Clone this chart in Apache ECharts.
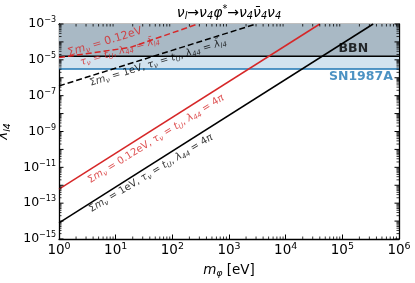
<!DOCTYPE html>
<html><head><meta charset="utf-8">
<script src="https://cdn.jsdelivr.net/npm/echarts@6/dist/echarts.min.js"></script>
<style>html,body{margin:0;padding:0;background:#fff}#c{width:415px;height:283px}</style>
</head><body><div id="c"></div>
<script>
// ---- data ----
const xTickExps = [0, 1, 2, 3, 4, 5, 6];
const yTickExps = [-15, -13, -11, -9, -7, -5, -3];
const xRange = [1, 1e6];
const yRange = [1e-15, 1e-3];
const bbnLimit = 1.6e-5;
const snLimit = 3.1e-6;
const blackSolid = [[1, 8e-15], [3.5e5, 1e-3]];
const redSolid = [[1, 6e-13], [4e4, 1e-3]];
const blackDashed = [[1, 3.5e-7], [3e3, 1e-3]];
const redDashed = [[1, 1.35e-5], [18, 4.9e-5], [280, 1e-3]];
const annoRedDash1 = {at: [6.5, 1e-4], rot: 17, color: '#d62728', size: 11,
  text: '{n|Σ}{i|m}{sub|ν}{n| = 0.12eV}'};
const annoRedDash2 = {at: [11.9, 2.9e-5], rot: 16, color: '#d62728', size: 10,
  text: '{i|τ}{sub|ν}{n| = }{i|t}{sub|U}{n|, }{i|λ}{sub|44}{n| = }{i|λ\u0304}{sub|l4}'};
const annoBlackDash = {at: [56, 7.1e-6], rot: 17, color: '#000', size: 10,
  text: '{n|Σ}{i|m}{sub|ν}{n| = 1eV, }{i|τ}{sub|ν}{n| = }{i|t}{sub|U}{n|, }{i|λ}{sub|44}{n| = }{i|λ\u0304}{sub|l4}'};
const annoRedSolid = {at: [51.5, 3.8e-10], rot: 32, color: '#d62728', size: 10,
  text: '{n|Σ}{i|m}{sub|ν}{n| = 0.12eV, }{i|τ}{sub|ν}{n| = }{i|t}{sub|U}{n|, }{i|λ}{sub|44}{n| = 4}{i|π}'};
const annoBlackSolid = {at: [42, 4.6e-12], rot: 31, color: '#000', size: 10,
  text: '{n|Σ}{i|m}{sub|ν}{n| = 1eV, }{i|τ}{sub|ν}{n| = }{i|t}{sub|U}{n|, }{i|λ}{sub|44}{n| = 4}{i|π}'};
const titleText = '{i|ν}{sub|l}{n|→}{i|ν}{sub|4}{i|φ}{sup|*}{n|→}{i|ν}{sub|4}{i|ν\u0304}{sub|4}{i|ν}{sub|4}';
const xNameText = '{i|m}{sub|φ}{n| [eV]}';
const yNameText = '{i|λ}{sub|l4}';
const bbnLabel = {at: [2.85e5, bbnLimit], text: 'BBN', color: '#000'};
const snLabel = {at: [7.8e5, snLimit], text: 'SN1987A', color: '#1f77b4'};

// ---- helpers ----
const FF = 'DejaVu Sans';
function rich(F, color, supRatio) {
  const sr = supRatio || 0.7;
  return {
    n: {fontSize: F, fontFamily: FF, color: color},
    i: {fontSize: F, fontFamily: FF, fontStyle: 'italic', color: color},
    sub: {fontSize: F * 0.7, fontFamily: FF, fontStyle: 'italic', color: color, padding: [F * 0.55, 0, 0, 0]},
    sup: {fontSize: F * 0.7, fontFamily: FF, color: color, padding: [0, 0, F * 0.55, 0]},
    b: {fontSize: F, fontFamily: FF, color: color},
    s: {fontSize: F * sr, fontFamily: FF, color: color, padding: [0, 0, F * 0.6, 0]}
  };
}
function powLabel(v, list) {
  const e = Math.round(Math.log10(v));
  if (list.indexOf(e) < 0) return '';
  return '{b|10}{s|' + String(e).replace('-', '\u2212') + '}';
}
const xMinor = [], yMinor = [];
for (let e = 0; e < 6; e++) for (let k = 2; k <= 9; k++) xMinor.push([k * Math.pow(10, e), 1e-9]);
for (let e = -15; e < -3; e++) for (let k = 2; k <= 9; k++) yMinor.push([10, k * Math.pow(10, e)]);
const yMajorAll = [];
for (let e = -15; e <= -3; e++) yMajorAll.push([10, Math.pow(10, e)]);

function annoSeries(a) {
  return {
    type: 'scatter', symbolSize: 0, silent: true, z: 5,
    data: [{value: a.at}],
    label: {show: true, position: [0, 0], align: 'center', verticalAlign: 'middle',
      rotate: a.rot, formatter: a.text, rich: rich(a.size, a.color)}
  };
}
function lineSeries(data, color, type) {
  return {type: 'line', data: data, showSymbol: false, symbol: 'none', z: 3, silent: true,
    lineStyle: {color: color, width: 1.5, type: type}};
}

const chart = echarts.init(document.getElementById('c'), null, {renderer: 'canvas'});
const axisLine = {show: true, lineStyle: {color: '#000', width: 1.3}};
chart.setOption({
  animation: false,
  grid: {left: 59, top: 24, right: 16, bottom: 44, containLabel: false, outerBoundsMode: 'none'},
  xAxis: [
    {type: 'log', logBase: 10, min: xRange[0], max: xRange[1], interval: 1,
     axisLine: axisLine, splitLine: {show: false},
     axisTick: {inside: true, length: 4.5, lineStyle: {color: '#000', width: 1}},
     axisLabel: {margin: 3, formatter: v => powLabel(v, xTickExps), rich: rich(13.5, '#000', 0.7)},
     name: xNameText, nameLocation: 'middle', nameGap: 23,
     nameTextStyle: {rich: rich(13.5, '#000')}},
    {type: 'log', logBase: 10, min: xRange[0], max: xRange[1], interval: 1, position: 'top',
     axisLine: axisLine, splitLine: {show: false},
     axisTick: {inside: true, length: 4.5, lineStyle: {color: '#000', width: 1}},
     axisLabel: {show: false}}
  ],
  yAxis: [
    {type: 'log', logBase: 10, min: yRange[0], max: yRange[1], interval: 1,
     axisLine: axisLine, splitLine: {show: false},
     axisTick: {show: false},
     axisLabel: {margin: 3, formatter: v => powLabel(v, yTickExps), rich: rich(12.5, '#000', 0.64)},
     name: yNameText, nameLocation: 'middle', nameGap: 47, nameRotate: 90,
     nameTextStyle: {rich: rich(13.5, '#000')}},
    {type: 'log', logBase: 10, min: yRange[0], max: yRange[1], interval: 1, position: 'right',
     axisLine: axisLine, splitLine: {show: false}, axisTick: {show: false},
     axisLabel: {show: false}}
  ],
  graphic: [{type: 'text', x: 229, y: 13, style: {text: titleText, rich: rich(14, '#000'), align: 'center', verticalAlign: 'middle'}}],
  series: [
    {type: 'line', data: [], silent: true, z: 1,
     markArea: {silent: true, itemStyle: {color: '#d2e3ef'}, data: [[{yAxis: snLimit}, {yAxis: yRange[1]}]]}},
    {type: 'line', data: [], silent: true, z: 1,
     markArea: {silent: true, itemStyle: {color: '#a9b9c5'}, data: [[{yAxis: bbnLimit}, {yAxis: yRange[1]}]]}},
    lineSeries([[xRange[0], bbnLimit], [xRange[1], bbnLimit]], '#000', 'solid'),
    lineSeries([[xRange[0], snLimit], [xRange[1], snLimit]], '#1f77b4', 'solid'),
    lineSeries(blackSolid, '#000', 'solid'),
    lineSeries(redSolid, '#d62728', 'solid'),
    lineSeries(blackDashed, '#000', [6, 3]),
    lineSeries(redDashed, '#d62728', [6, 3]),
    annoSeries(annoRedDash1),
    annoSeries(annoRedDash2),
    annoSeries(annoBlackDash),
    annoSeries(annoRedSolid),
    annoSeries(annoBlackSolid),
    {type: 'scatter', symbolSize: 0, silent: true, z: 5, data: [{value: bbnLabel.at}],
     label: {show: true, position: [0, 0], align: 'right', verticalAlign: 'bottom', offset: [0, -1],
       formatter: bbnLabel.text, fontFamily: FF, fontWeight: 'bold', fontSize: 12.5, color: bbnLabel.color}},
    {type: 'scatter', symbolSize: 0, silent: true, z: 5, data: [{value: snLabel.at}],
     label: {show: true, position: [0, 0], align: 'right', verticalAlign: 'top', offset: [0, 1],
       formatter: snLabel.text, fontFamily: FF, fontWeight: 'bold', fontSize: 12.5, color: snLabel.color}},
    {type: 'custom', silent: true, z: 6, clip: false, data: xMinor,
     renderItem: function (p, api) {
       const b = api.coord([api.value(0), yRange[0]]);
       const t = api.coord([api.value(0), yRange[1]]);
       return {type: 'group', children: [
         {type: 'line', shape: {x1: b[0], y1: b[1], x2: b[0], y2: b[1] - 2.5}, style: {stroke: '#000', lineWidth: 0.8}},
         {type: 'line', shape: {x1: t[0], y1: t[1], x2: t[0], y2: t[1] + 2.5}, style: {stroke: '#000', lineWidth: 0.8}}]};
     }},
    {type: 'custom', silent: true, z: 6, clip: false, data: yMinor,
     renderItem: function (p, api) {
       const l = api.coord([xRange[0], api.value(1)]);
       const r = api.coord([xRange[1], api.value(1)]);
       return {type: 'group', children: [
         {type: 'line', shape: {x1: l[0], y1: l[1], x2: l[0] + 2.5, y2: l[1]}, style: {stroke: '#000', lineWidth: 0.8}},
         {type: 'line', shape: {x1: r[0], y1: r[1], x2: r[0] - 2.5, y2: r[1]}, style: {stroke: '#000', lineWidth: 0.8}}]};
     }},
    {type: 'custom', silent: true, z: 6, clip: false, data: yMajorAll,
     renderItem: function (p, api) {
       const l = api.coord([xRange[0], api.value(1)]);
       const r = api.coord([xRange[1], api.value(1)]);
       return {type: 'group', children: [
         {type: 'line', shape: {x1: l[0], y1: l[1], x2: l[0] + 4.5, y2: l[1]}, style: {stroke: '#000', lineWidth: 1}},
         {type: 'line', shape: {x1: r[0], y1: r[1], x2: r[0] - 4.5, y2: r[1]}, style: {stroke: '#000', lineWidth: 1}}]};
     }}
  ]
});
</script></body></html>
